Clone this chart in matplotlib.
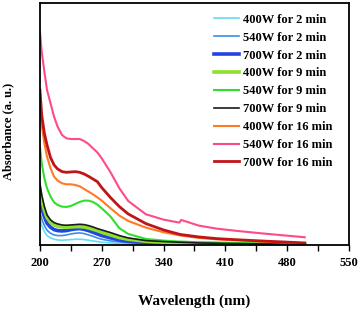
import numpy as np
import matplotlib.pyplot as plt

plt.rcParams['font.family'] = ['Liberation Serif', 'DejaVu Serif']
plt.rcParams['font.weight'] = 'bold'

# wavelengths (nm) and absorbance (arbitrary units)
wl = [200, 202, 205, 208, 212, 216, 220, 225, 230, 235, 240, 245, 250, 255, 260,
      265, 270, 280, 290, 300, 320, 340, 358, 360, 380, 400, 420, 450, 500]

a400_2  = [77, 58, 40, 28, 21, 17, 15, 14, 15, 16, 17, 17, 16, 14, 12,
           10, 8, 6, 4, 3, 2, 2, 1.5, 1.5, 1, 1, 1, 1, 1]
a540_2  = [97, 78, 58, 44, 35, 30, 28, 28, 30, 33, 35, 36, 34, 30, 26,
           21, 17, 12, 9, 7, 5, 4, 3, 3, 2, 2, 2, 1, 1]
a700_2  = [137, 110, 85, 65, 53, 46, 43, 42, 43, 46, 48, 49, 47, 43, 38,
           33, 28, 21, 15, 11, 7, 5, 4, 4, 3, 3, 2, 2, 1]
a400_9  = [165, 135, 105, 82, 68, 60, 56, 54, 53, 54, 55, 55, 54, 51, 47,
           43, 38, 30, 22, 17, 11, 8, 6, 6, 5, 4, 3, 3, 2]
a540_9  = [295, 245, 200, 170, 145, 128, 120, 115, 114, 117, 123, 129, 133, 133, 129,
           121, 110, 85, 50, 33, 18, 13, 10, 10, 8, 7, 6, 4, 2]
a700_9  = [185, 150, 115, 90, 75, 67, 63, 60, 59, 60, 61, 62, 61, 58, 54,
           49, 45, 37, 28, 21, 13, 10, 8, 8, 6, 5, 4, 3, 2]
a400_16 = [420, 360, 305, 265, 230, 205, 193, 185, 182, 182, 180, 176, 168, 160, 152,
           143, 133, 110, 88, 72, 52, 38, 29, 28, 21, 17, 14, 10, 5]
a540_16 = [640, 580, 520, 465, 425, 385, 355, 330, 320, 318, 318, 318, 312, 303, 290,
           278, 260, 218, 170, 132, 92, 76, 67, 75, 58, 49, 43, 35, 23]
a700_16 = [465, 390, 335, 300, 262, 240, 228, 220, 218, 219, 220, 218, 213, 206, 198,
           190, 172, 142, 115, 93, 64, 45, 32, 31, 24, 19, 16, 12, 6]

labels = ['400W for 2 min', '540W for 2 min', '700W for 2 min',
          '400W for 9 min', '540W for 9 min', '700W for 9 min',
          '400W for 16 min', '540W for 16 min', '700W for 16 min']
series = [a400_2, a540_2, a700_2, a400_9, a540_9, a700_9, a400_16, a540_16, a700_16]
colors = ['#62dcf6', '#3a8ee8', '#2244e0', '#8ee02a', '#2ee02a', '#1a1a1a',
          '#ff7a24', '#ff4a88', '#c01418']
widths = [1.2, 1.2, 2.6, 2.6, 1.5, 1.2, 1.5, 1.5, 2.0]

fig = plt.figure(figsize=(3.6, 3.14), dpi=100)
ax = fig.add_axes([0.111, 0.22, 0.858, 0.77])

for y, lab, c, w in zip(series, labels, colors, widths):
    ax.plot(wl, y, color=c, lw=w, label=lab)

ax.set_xlim(200, 550)
ax.set_ylim(0, 726)
ax.set_xticks(np.arange(200, 551, 35))
ax.set_xticklabels([str(v) if (v - 200) % 70 == 0 else '' for v in range(200, 551, 35)])
ax.set_yticks([])
ax.tick_params(axis='x', direction='out', length=4, width=1, labelsize=9, pad=5)
for s in ax.spines.values():
    s.set_linewidth(1.3)

ax.set_xlabel('Wavelength (nm)', fontsize=11, fontweight='bold', labelpad=18)
ax.set_ylabel('Absorbance (a. u.)', fontsize=9, fontweight='bold')
ax.yaxis.set_label_coords(-0.082, 0.47)

ax.legend(loc='upper right', bbox_to_anchor=(0.974, 0.992), frameon=False,
          handlelength=2.0, handletextpad=0.3, labelspacing=0.47, borderaxespad=0.3,
          prop={'weight': 'bold', 'size': 9})

fig.savefig('out.png', dpi=100)
